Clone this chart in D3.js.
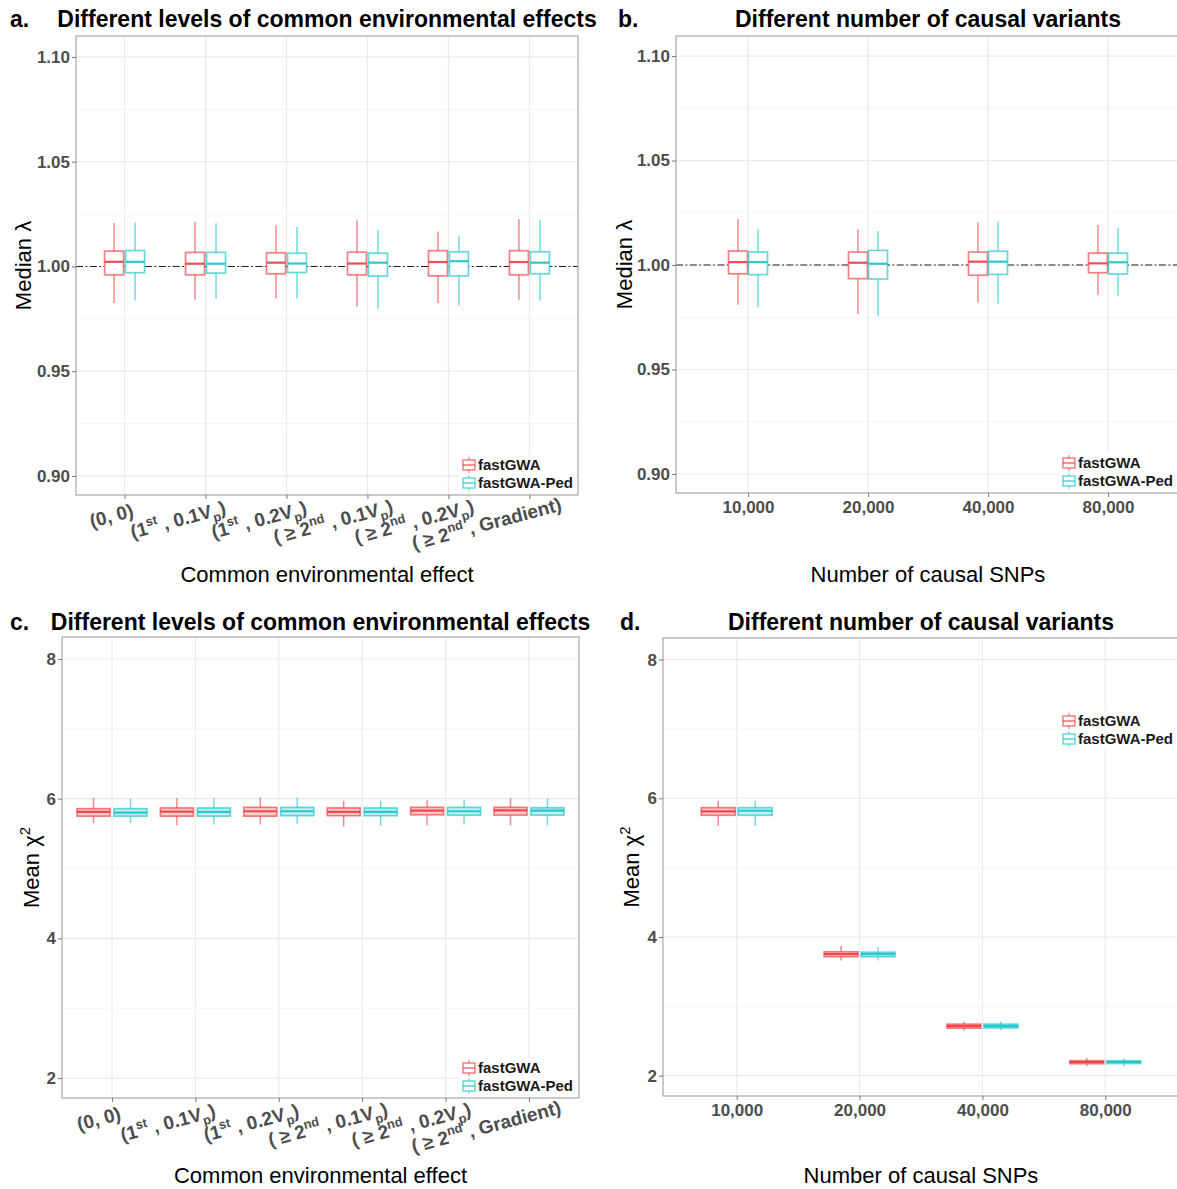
<!DOCTYPE html>
<html>
<head>
<meta charset="utf-8">
<script src="https://cdn.jsdelivr.net/npm/d3@7"></script>
<style>
  body { margin: 0; background: #fff; }
  svg text { font-family: "Liberation Sans", Arial, sans-serif; }
</style>
</head>
<body>
<svg id="fig" width="1177" height="1189"></svg>
<script>
// ---- data -------------------------------------------------------------
// Scenario labels; ^{...} is a superscript, _{...} a subscript.
const envCategories = [
  "(0, 0)",
  "(1^{st} , 0.1V_{p})",
  "(1^{st} , 0.2V_{p})",
  "( \u2265 2^{nd} , 0.1V_{p})",
  "( \u2265 2^{nd} , 0.2V_{p})",
  "( \u2265 2^{nd} , Gradient)"
];
const snpCategories = ["10,000", "20,000", "40,000", "80,000"];
const seriesNames = ["fastGWA", "fastGWA-Ped"];

// Each box: [lower whisker, Q1, median, Q3, upper whisker]
const lambdaEnvFastGWA = [
  [0.9825, 0.9960, 1.0022, 1.0073, 1.0207],
  [0.9841, 0.9960, 1.0013, 1.0067, 1.0212],
  [0.9848, 0.9965, 1.0018, 1.0065, 1.0197],
  [0.9809, 0.9960, 1.0014, 1.0068, 1.0220],
  [0.9826, 0.9955, 1.0021, 1.0075, 1.0167],
  [0.9841, 0.9960, 1.0021, 1.0075, 1.0225]
];
const lambdaEnvPed = [
  [0.9837, 0.9970, 1.0022, 1.0076, 1.0210],
  [0.9846, 0.9968, 1.0013, 1.0067, 1.0206],
  [0.9848, 0.9971, 1.0014, 1.0063, 1.0188],
  [0.9798, 0.9954, 1.0018, 1.0063, 1.0174],
  [0.9814, 0.9955, 1.0025, 1.0070, 1.0148],
  [0.9837, 0.9965, 1.0018, 1.0070, 1.0221]
];
const lambdaSnpFastGWA = [
  [0.9810, 0.9958, 1.0014, 1.0067, 1.0219],
  [0.9766, 0.9935, 1.0011, 1.0062, 1.0171],
  [0.9821, 0.9951, 1.0016, 1.0062, 1.0204],
  [0.9858, 0.9963, 1.0008, 1.0057, 1.0191]
];
const lambdaSnpPed = [
  [0.9798, 0.9954, 1.0014, 1.0062, 1.0172],
  [0.9756, 0.9933, 1.0006, 1.0070, 1.0163],
  [0.9815, 0.9955, 1.0016, 1.0066, 1.0209],
  [0.9853, 0.9957, 1.0013, 1.0057, 1.0176]
];
const chisqEnvFastGWA = [
  [5.65, 5.750, 5.810, 5.857, 6.01],
  [5.62, 5.750, 5.814, 5.867, 6.01],
  [5.63, 5.750, 5.820, 5.876, 6.02],
  [5.60, 5.757, 5.810, 5.867, 5.97],
  [5.62, 5.770, 5.830, 5.876, 5.98],
  [5.62, 5.765, 5.833, 5.876, 6.01]
];
const chisqEnvPed = [
  [5.650, 5.750, 5.800, 5.857, 6.00],
  [5.630, 5.750, 5.810, 5.867, 6.01],
  [5.640, 5.757, 5.820, 5.876, 6.02],
  [5.610, 5.757, 5.810, 5.867, 5.97],
  [5.630, 5.765, 5.820, 5.876, 5.98],
  [5.615, 5.765, 5.830, 5.870, 6.00]
];
const chisqSnpFastGWA = [
  [5.600, 5.755, 5.810, 5.864, 5.965],
  [3.660, 3.715, 3.753, 3.786, 3.870],
  [2.652, 2.685, 2.714, 2.743, 2.780],
  [2.135, 2.173, 2.197, 2.216, 2.255]
];
const chisqSnpPed = [
  [5.600, 5.755, 5.820, 5.864, 5.965],
  [3.660, 3.715, 3.753, 3.780, 3.855],
  [2.655, 2.688, 2.714, 2.743, 2.780],
  [2.140, 2.175, 2.197, 2.216, 2.250]
];

const lambdaTicks = [0.90, 0.95, 1.00, 1.05, 1.10];
const lambdaMinor = [0.925, 0.975, 1.025, 1.075];
const chisqTicks = [2, 4, 6, 8];
const chisqMinor = [3, 5, 7];
const nullLambda = 1.00;

// ---- styling ----------------------------------------------------------
const seriesColors = ["#F03A40", "#16C4C8"];
const tickGray = "#4d4d4d";
const borderGray = "#a0a0a0";

const svg = d3.select("#fig");

// Writes a string with ^{..}/_{..} markup into a <text> as tspans.
function richText(textSel, str, size) {
  const parts = str.split(/(\^\{[^}]*\}|_\{[^}]*\})/).filter(s => s.length);
  let shift = 0;
  parts.forEach(part => {
    let s = 0, content = part, fs = size;
    if (part.startsWith("^{")) { s = -size * 0.42; content = part.slice(2, -1); fs = size * 0.68; }
    else if (part.startsWith("_{")) { s = size * 0.28; content = part.slice(2, -1); fs = size * 0.68; }
    textSel.append("tspan").attr("dy", s - shift).attr("font-size", fs).text(content);
    shift = s;
  });
}

const panels = [
  {
    letter: "a.", letterX: 10, title: "Different levels of common environmental effects", titleY: 27,
    left: 76, right: 578, top: 36, bottom: 495,
    yDomain: [0.8909, 1.1100], yTicks: lambdaTicks, yMinor: lambdaMinor, yFmt: d3.format(".2f"),
    yKind: "lambda", yTitleX: 31,
    categories: envCategories, rich: true,
    xTitle: "Common environmental effect", xTitleY: 582,
    data: [lambdaEnvFastGWA, lambdaEnvPed], boxW: 19, offset: 10.5, filled: false, ref: true,
    legend: [462, 465]
  },
  {
    letter: "b.", letterX: 618, title: "Different number of causal variants", titleY: 27,
    left: 676, right: 1180, top: 36, bottom: 493,
    yDomain: [0.8909, 1.1096], yTicks: lambdaTicks, yMinor: lambdaMinor, yFmt: d3.format(".2f"),
    yKind: "lambda", yTitleX: 632,
    categories: snpCategories, rich: false,
    xTitle: "Number of causal SNPs", xTitleY: 582,
    data: [lambdaSnpFastGWA, lambdaSnpPed], boxW: 19, offset: 10, filled: false, ref: true,
    legend: [1062, 463]
  },
  {
    letter: "c.", letterX: 10, title: "Different levels of common environmental effects", titleY: 630,
    left: 62, right: 579, top: 637, bottom: 1098,
    yDomain: [1.714, 8.315], yTicks: chisqTicks, yMinor: chisqMinor, yFmt: d3.format("d"),
    yKind: "chisq", yTitleX: 39,
    categories: envCategories, rich: true,
    xTitle: "Common environmental effect", xTitleY: 1183,
    data: [chisqEnvFastGWA, chisqEnvPed], boxW: 33, offset: 18.5, filled: true, ref: false,
    legend: [462, 1068]
  },
  {
    letter: "d.", letterX: 620, title: "Different number of causal variants", titleY: 630,
    left: 663, right: 1179, top: 638, bottom: 1096,
    yDomain: [1.707, 8.311], yTicks: chisqTicks, yMinor: chisqMinor, yFmt: d3.format("d"),
    yKind: "chisq", yTitleX: 639,
    categories: snpCategories, rich: false,
    xTitle: "Number of causal SNPs", xTitleY: 1183,
    data: [chisqSnpFastGWA, chisqSnpPed], boxW: 34, offset: 18.5, filled: true, ref: false,
    legend: [1062, 721]
  }
];

panels.forEach(p => {
  const g = svg.append("g");
  const x = d3.scalePoint().domain(p.categories).range([p.left, p.right]).padding(0.6);
  const y = d3.scaleLinear().domain(p.yDomain).range([p.bottom, p.top]);
  const cx = (p.left + p.right) / 2;
  const cy = (p.top + p.bottom) / 2;

  // grid
  g.selectAll(null).data(p.yMinor).join("line")
    .attr("x1", p.left).attr("x2", p.right).attr("y1", d => y(d)).attr("y2", d => y(d))
    .attr("stroke", "#f2f2f2").attr("stroke-width", 0.8);
  g.selectAll(null).data(p.yTicks).join("line")
    .attr("x1", p.left).attr("x2", p.right).attr("y1", d => y(d)).attr("y2", d => y(d))
    .attr("stroke", "#ebebeb").attr("stroke-width", 1.2);
  g.selectAll(null).data(p.categories).join("line")
    .attr("x1", d => x(d)).attr("x2", d => x(d)).attr("y1", p.top).attr("y2", p.bottom)
    .attr("stroke", "#ebebeb").attr("stroke-width", 1.2);

  // reference line at lambda = 1
  if (p.ref) {
    g.append("line")
      .attr("x1", p.left).attr("x2", p.right).attr("y1", y(nullLambda)).attr("y2", y(nullLambda))
      .attr("stroke", "#222").attr("stroke-width", 1.1)
      .attr("stroke-dasharray", "7,2.5,1.8,2.5");
  }

  // boxes
  p.data.forEach((series, si) => {
    const color = seriesColors[si];
    const shift = si === 0 ? -p.offset : p.offset;
    const rows = series.map((v, i) => ({ cat: p.categories[i], v }));
    const bg = g.selectAll(null).data(rows).join("g")
      .attr("transform", d => `translate(${x(d.cat) + shift},0)`);
    bg.append("line").attr("x1", 0).attr("x2", 0)
      .attr("y1", d => y(d.v[4])).attr("y2", d => y(d.v[3]))
      .attr("stroke", color).attr("stroke-opacity", 0.6).attr("stroke-width", 1.5);
    bg.append("line").attr("x1", 0).attr("x2", 0)
      .attr("y1", d => y(d.v[1])).attr("y2", d => y(d.v[0]))
      .attr("stroke", color).attr("stroke-opacity", 0.6).attr("stroke-width", 1.5);
    bg.append("rect")
      .attr("x", -p.boxW / 2).attr("width", p.boxW)
      .attr("y", d => y(d.v[3])).attr("height", d => y(d.v[1]) - y(d.v[3]))
      .attr("fill", p.filled ? color : "#fff").attr("fill-opacity", p.filled ? 0.25 : 1)
      .attr("stroke", color).attr("stroke-opacity", 0.65).attr("stroke-width", 1.7);
    bg.append("line").attr("x1", -p.boxW / 2).attr("x2", p.boxW / 2)
      .attr("y1", d => y(d.v[2])).attr("y2", d => y(d.v[2]))
      .attr("stroke", color).attr("stroke-opacity", 0.9).attr("stroke-width", 2.2);
  });

  // panel border
  g.append("rect").attr("x", p.left).attr("y", p.top)
    .attr("width", p.right - p.left).attr("height", p.bottom - p.top)
    .attr("fill", "none").attr("stroke", borderGray).attr("stroke-width", 1.1);

  // y axis
  const ya = g.append("g").attr("transform", `translate(${p.left},0)`)
    .call(d3.axisLeft(y).tickValues(p.yTicks).tickFormat(p.yFmt).tickSize(4).tickPadding(2));
  ya.select(".domain").remove();
  ya.selectAll(".tick line").attr("stroke", "#777");
  ya.selectAll(".tick text").attr("fill", tickGray).attr("font-size", 17).attr("font-weight", "bold");

  // x axis
  const xa = g.append("g").attr("transform", `translate(0,${p.bottom})`)
    .call(d3.axisBottom(x).tickSize(4).tickPadding(4));
  xa.select(".domain").remove();
  xa.selectAll(".tick line").attr("stroke", "#777");
  if (p.rich) {
    xa.selectAll(".tick text").remove();
    xa.selectAll(".tick").each(function (d) {
      const t = d3.select(this).append("g").attr("transform", "translate(0,24) rotate(-15)")
        .append("text").attr("text-anchor", "start")
        .attr("fill", tickGray).attr("font-weight", "bold").attr("font-size", 19);
      richText(t, d, 19);
      const len = t.node().getComputedTextLength();
      t.attr("x", -0.78 * len);
    });
  } else {
    xa.selectAll(".tick text").attr("fill", tickGray).attr("font-size", 17).attr("font-weight", "bold");
  }

  // titles
  svg.append("text").attr("x", p.letterX).attr("y", p.titleY)
    .attr("font-size", 23).attr("font-weight", "bold").attr("fill", "#000").text(p.letter);
  svg.append("text").attr("x", cx).attr("y", p.titleY).attr("text-anchor", "middle")
    .attr("font-size", 23).attr("font-weight", "bold").attr("fill", "#000").text(p.title);
  svg.append("text").attr("x", cx).attr("y", p.xTitleY).attr("text-anchor", "middle")
    .attr("font-size", 22).attr("fill", "#000").text(p.xTitle);
  const yt = svg.append("text").attr("transform", `translate(${p.yTitleX},${cy}) rotate(-90)`)
    .attr("text-anchor", "middle").attr("font-size", 22).attr("fill", "#000");
  if (p.yKind === "lambda") richText(yt, "Median \u03bb", 22);
  else richText(yt, "Mean \u03c7^{2}", 22);

  // legend
  const [lx, ly] = p.legend;
  const lg = g.append("g");
  lg.append("rect").attr("x", lx - 3).attr("y", ly - 10).attr("width", Math.min(p.right, 1177) - lx + 1)
    .attr("height", 37).attr("fill", "#fff");
  seriesNames.forEach((name, i) => {
    const ky = ly + i * 18;
    const color = seriesColors[i];
    lg.append("line").attr("x1", lx + 7).attr("x2", lx + 7).attr("y1", ky - 8).attr("y2", ky + 8)
      .attr("stroke", color).attr("stroke-opacity", 0.6).attr("stroke-width", 1.3);
    lg.append("rect").attr("x", lx + 1).attr("y", ky - 5).attr("width", 12).attr("height", 10)
      .attr("fill", "#fff").attr("stroke", color).attr("stroke-opacity", 0.7).attr("stroke-width", 1.4);
    lg.append("line").attr("x1", lx + 1).attr("x2", lx + 13).attr("y1", ky).attr("y2", ky)
      .attr("stroke", color).attr("stroke-opacity", 0.8).attr("stroke-width", 1.4);
    lg.append("text").attr("x", lx + 16).attr("y", ky + 5)
      .attr("font-size", 15).attr("font-weight", "bold").attr("fill", "#1a1a1a").text(name);
  });
});
</script>
</body>
</html>
